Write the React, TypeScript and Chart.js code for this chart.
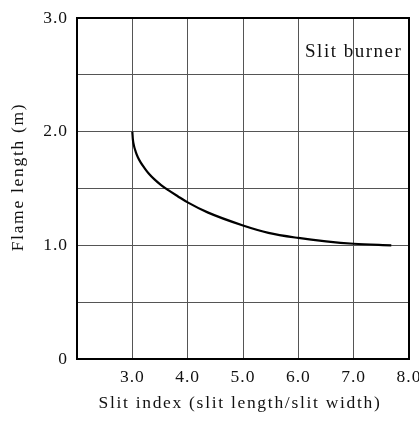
import React, { useEffect, useRef } from "react";
import { Chart, registerables } from "chart.js";

Chart.register(...registerables);

const slitIndex = [3.0, 3.01, 3.03, 3.06, 3.1, 3.15, 3.22, 3.3, 3.4, 3.52, 3.65, 3.82, 4.0, 4.36, 5.0, 5.46, 6.0, 6.5, 7.0, 7.68];
const flameLength = [2.0, 1.93, 1.875, 1.825, 1.775, 1.73, 1.68, 1.63, 1.58, 1.53, 1.485, 1.432, 1.378, 1.29, 1.175, 1.11, 1.065, 1.035, 1.014, 1.0];
const xTickLabels: Record<number, string> = { 3: "3.0", 4: "4.0", 5: "5.0", 6: "6.0", 7: "7.0", 8: "8.0" };
const yTickLabels: Record<number, string> = { 0: "0", 1: "1.0", 2: "2.0", 3: "3.0" };
const xTitle = "Slit index (slit length/slit width)";
const yTitle = "Flame length (m)";
const annotation = "Slit burner";
const annotationAt = { x: 7.0, y: 2.7 };

const SERIF = "'Liberation Serif', 'DejaVu Serif', serif";

export default function App() {
  const ref = useRef<HTMLCanvasElement | null>(null);

  useEffect(() => {
    const canvas = ref.current;
    if (!canvas) return;
    document.body.style.margin = "0";

    const textPlugin = {
      id: "textPlugin",
      beforeDraw(chart: any) {
        chart.ctx.letterSpacing = "1px";
      },
      afterDraw(chart: any) {
        const { ctx, chartArea, scales } = chart;
        ctx.save();
        ctx.strokeStyle = "#000";
        ctx.lineWidth = 2;
        ctx.strokeRect(chartArea.left, chartArea.top, chartArea.right - chartArea.left, chartArea.bottom - chartArea.top);
        ctx.fillStyle = "#111";
        ctx.textAlign = "center";
        ctx.textBaseline = "middle";
        ctx.letterSpacing = "1.5px";
        ctx.font = `19px ${SERIF}`;
        ctx.fillText(annotation, scales.x.getPixelForValue(annotationAt.x), scales.y.getPixelForValue(annotationAt.y));
        ctx.font = `17.5px ${SERIF}`;
        ctx.letterSpacing = "1.7px";
        ctx.fillText(xTitle, 240, 403);
        ctx.translate(18, 177);
        ctx.rotate(-Math.PI / 2);
        ctx.fillText(yTitle, 0, 0);
        ctx.restore();
      },
    };

    const chart = new Chart(canvas, {
      type: "line",
      data: {
        datasets: [
          {
            data: slitIndex.map((x, i) => ({ x, y: flameLength[i] })),
            borderColor: "#000",
            borderWidth: 2.2,
            pointRadius: 0,
            cubicInterpolationMode: "monotone",
            fill: false,
          },
        ],
      },
      options: {
        animation: false,
        responsive: false,
        layout: { padding: { left: 0, top: 18, right: 10, bottom: 0 } },
        plugins: { legend: { display: false }, tooltip: { enabled: false } },
        scales: {
          x: {
            type: "linear",
            min: 2,
            max: 8,
            afterFit: (s: any) => {
              s.height = 63;
              s.paddingLeft = 0;
              s.paddingRight = 0;
            },
            border: { display: false },
            grid: { color: "#555", lineWidth: 1, drawTicks: false },
            ticks: {
              stepSize: 1,
              padding: 8,
              color: "#111",
              font: { family: SERIF, size: 17.5 },
              callback: (v: any) => xTickLabels[v] ?? "",
              maxRotation: 0,
              autoSkip: false,
            },
          },
          y: {
            type: "linear",
            min: 0,
            max: 3,
            afterFit: (s: any) => {
              s.width = 77;
              s.paddingTop = 0;
              s.paddingBottom = 0;
            },
            border: { display: false },
            grid: { color: "#555", lineWidth: 1, drawTicks: false },
            ticks: {
              stepSize: 0.5,
              padding: 9,
              color: "#111",
              font: { family: SERIF, size: 17.5 },
              callback: (v: any) => yTickLabels[v] ?? "",
              autoSkip: false,
            },
          },
        },
      },
      plugins: [textPlugin],
    } as any);

    return () => chart.destroy();
  }, []);

  return (
    <div style={{ position: "absolute", left: 0, top: 0, width: 419, height: 422 }}>
      <canvas ref={ref} width={419} height={422} style={{ display: "block" }} />
    </div>
  );
}
